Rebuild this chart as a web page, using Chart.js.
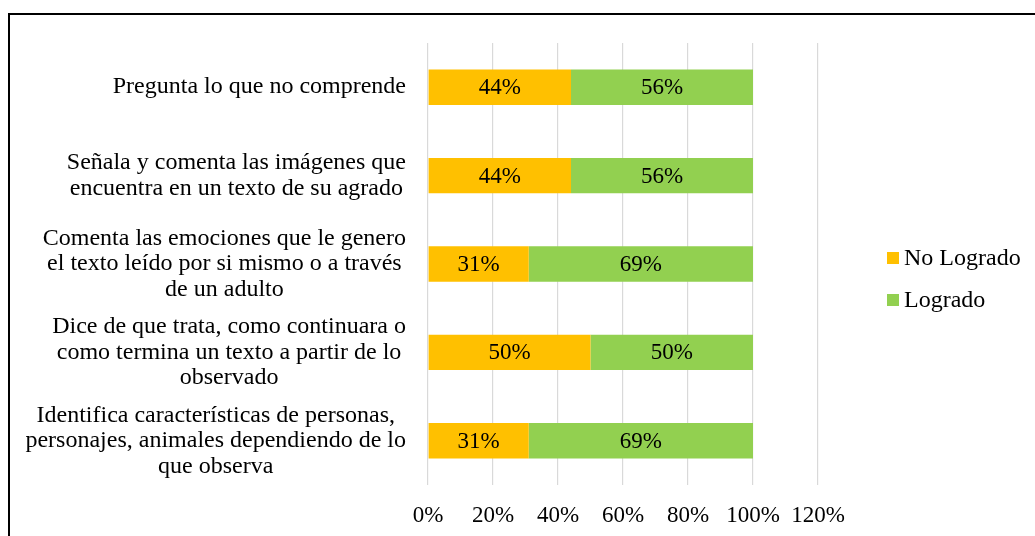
<!DOCTYPE html>
<html>
<head>
<meta charset="utf-8">
<script src="https://cdn.jsdelivr.net/npm/chart.js@4/dist/chart.umd.min.js"></script>
<style>
  html, body { margin: 0; padding: 0; background: #fff; overflow: hidden; }
  #frame { position: absolute; left: 8px; top: 13px; width: 1100px; height: 600px;
           border-top: 2px solid #000; border-left: 2px solid #000; }
  #wrap { position: absolute; left: 0; top: 0; width: 1035px; height: 536px; }
</style>
</head>
<body>
<div id="frame"></div>
<div id="wrap"><canvas id="myChart" width="1035" height="536"></canvas></div>
<script>
var categories = [
    'Pregunta lo que no comprende',
    ['Señala y comenta las imágenes que', 'encuentra en un texto de su agrado'],
    ['Comenta las emociones que le genero', 'el texto leído por si mismo o a través', 'de un adulto'],
    ['Dice de que trata, como continuara o', 'como termina un texto a partir de lo', 'observado'],
    ['Identifica características de personas,', 'personajes, animales dependiendo de lo', 'que observa']
];
var noLogrado = [44, 44, 31, 50, 31];
var logrado = [56, 56, 69, 50, 69];
var seriesNames = ['No Logrado', 'Logrado'];
var seriesColors = ['#FFC000', '#92D050'];
var xTicks = [0, 20, 40, 60, 80, 100, 120];

var fontFamily = '"Liberation Serif", "Times New Roman", serif';

// category labels: each block centred on itself, blocks right aligned (like Excel)
var catLabels = {
    id: 'catLabels',
    afterDraw: function(chart) {
        var ctx = chart.ctx;
        var yScale = chart.scales.y;
        var right = chart.chartArea.left - 22;
        var lh = 25.5;
        ctx.save();
        ctx.font = '24px ' + fontFamily;
        ctx.fillStyle = '#000';
        ctx.textAlign = 'center';
        ctx.textBaseline = 'middle';
        chart.data.labels.forEach(function(lab, i) {
            var lines = Array.isArray(lab) ? lab : [lab];
            var widest = 0;
            lines.forEach(function(l) { widest = Math.max(widest, ctx.measureText(l).width); });
            var cx = right - widest / 2;
            var cy = yScale.getPixelForTick(i);
            var y0 = cy - (lines.length - 1) * lh / 2;
            lines.forEach(function(l, k) { ctx.fillText(l, cx, y0 + k * lh); });
        });
        ctx.restore();
    }
};

// percent labels in the middle of each bar piece
var barLabels = {
    id: 'barLabels',
    afterDatasetsDraw: function(chart) {
        var ctx = chart.ctx;
        ctx.save();
        ctx.font = '23px ' + fontFamily;
        ctx.fillStyle = '#000';
        ctx.textAlign = 'center';
        ctx.textBaseline = 'middle';
        chart.data.datasets.forEach(function(ds, i) {
            chart.getDatasetMeta(i).data.forEach(function(bar, j) {
                var p = bar.getCenterPoint();
                ctx.fillText(ds.data[j] + '%', p.x, p.y + 1);
            });
        });
        ctx.restore();
    }
};

// legend drawn at the right like the original
var sideLegend = {
    id: 'sideLegend',
    afterDraw: function(chart) {
        var ctx = chart.ctx;
        ctx.save();
        ctx.font = '24px ' + fontFamily;
        ctx.textBaseline = 'middle';
        ctx.textAlign = 'left';
        chart.data.datasets.forEach(function(ds, i) {
            var y = 258 + i * 42;
            ctx.fillStyle = ds.backgroundColor;
            ctx.fillRect(887, y - 6, 12, 12);
            ctx.fillStyle = '#000';
            ctx.fillText(ds.label, 904, y + 1);
        });
        ctx.restore();
    }
};

var ctx = document.getElementById('myChart').getContext('2d');
var myChart = new Chart(ctx, {
    type: 'bar',
    data: {
        labels: categories,
        datasets: [
            { label: seriesNames[0], data: noLogrado, backgroundColor: seriesColors[0] },
            { label: seriesNames[1], data: logrado, backgroundColor: seriesColors[1] }
        ]
    },
    options: {
        indexAxis: 'y',
        responsive: false,
        animation: false,
        categoryPercentage: 0.8,
        barPercentage: 0.5,
        layout: { padding: { top: 43, right: 217, left: 0, bottom: 0 } },
        plugins: {
            legend: { display: false },
            tooltip: { enabled: false }
        },
        scales: {
            x: {
                stacked: true,
                min: 0,
                max: 120,
                afterBuildTicks: function(scale) {
                    scale.ticks = xTicks.map(function(v) { return { value: v }; });
                },
                afterFit: function(scale) {
                    scale.height = 51;
                    scale.paddingLeft = 0;
                    scale.paddingRight = 0;
                },
                grid: { color: '#D9D9D9', lineWidth: 1.2, drawTicks: false },
                border: { display: false },
                ticks: {
                    padding: 17,
                    color: '#000',
                    font: { family: fontFamily, size: 23, lineHeight: 1.2 },
                    callback: function(v) { return v + '%'; }
                }
            },
            y: {
                stacked: true,
                afterFit: function(scale) {
                    scale.width = 428;
                    scale.paddingTop = 0;
                    scale.paddingBottom = 0;
                },
                grid: { display: false, drawTicks: false },
                border: { display: false },
                ticks: { display: false }
            }
        }
    },
    plugins: [barLabels, catLabels, sideLegend]
});
</script>
</body>
</html>
